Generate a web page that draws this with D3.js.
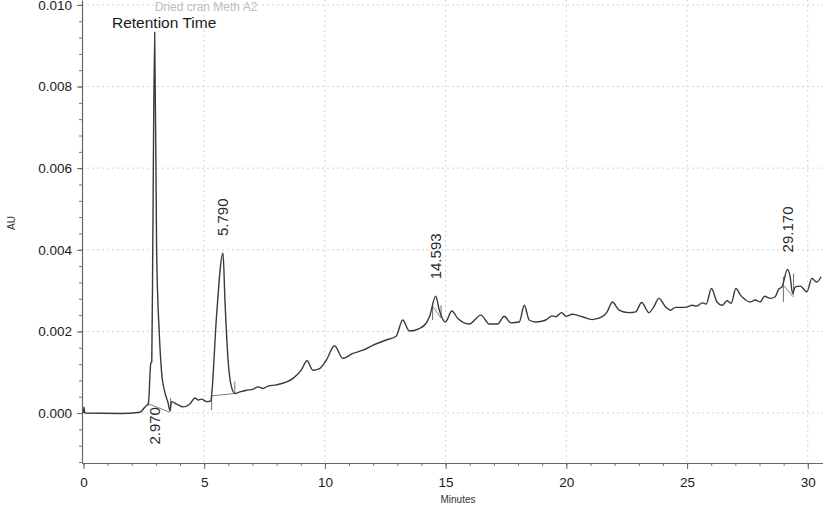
<!DOCTYPE html>
<html>
<head>
<meta charset="utf-8">
<script src="https://cdn.jsdelivr.net/npm/d3@7"></script>
<style>
  body { margin: 0; background: #fff; }
  text { font-family: "Liberation Sans", Arial, sans-serif; }
</style>
</head>
<body>
<svg id="chart"></svg>
<script>
// chromatogram trace (minutes, AU)
const times = [0, 0.02, 0.06, 1.52, 2.34, 2.55, 2.69, 2.79, 2.83, 2.87,
  2.95, 3.03, 3.14, 3.24, 3.38, 3.51, 3.58, 3.65, 3.86, 4.13,
  4.41, 4.62, 4.75, 4.89, 5.10, 5.28, 5.31, 5.51, 5.78, 5.86,
  5.99, 6.13, 6.27, 6.48, 6.75, 7.02, 7.23, 7.44, 7.64, 7.99,
  8.68, 9.02, 9.26, 9.50, 9.78, 10.06, 10.40, 10.74, 11.16, 11.57,
  11.98, 12.54, 12.95, 13.22, 13.50, 13.91, 14.19, 14.33, 14.59, 14.74,
  14.99, 15.26, 15.50, 15.98, 16.46, 16.81, 17.15, 17.43, 17.70, 18.05,
  18.26, 18.46, 18.74, 19.15, 19.42, 19.56, 19.81, 19.98, 20.25, 20.66,
  21.07, 21.49, 21.69, 21.91, 22.18, 22.59, 22.87, 23.12, 23.42, 23.62,
  23.83, 24.11, 24.31, 24.52, 24.93, 25.21, 25.41, 25.62, 25.79, 26.01,
  26.24, 26.45, 26.65, 26.83, 27.02, 27.21, 27.41, 27.62, 27.83, 28.03,
  28.21, 28.45, 28.65, 28.79, 28.93, 29.16, 29.27, 29.37, 29.48, 29.69,
  29.96, 30.17, 30.37, 30.55];
const absorbance = [0, 0.00015, 0, -0.00001, 0.00002, 0.00015, 0.00024, 0.00122, 0.00125, 0.00399,
  0.00933, 0.00399, 0.00196, 0.00098, 0.00049, 0.00024, 0.00006, 0.00028, 0.00022, 0.00015,
  0.00022, 0.00037, 0.00032, 0.00034, 0.00028, 0.00030, 0.00044, 0.00236, 0.00392, 0.00277,
  0.00130, 0.00064, 0.00048, 0.00052, 0.00056, 0.00058, 0.00064, 0.00060, 0.00066, 0.00069,
  0.00085, 0.00105, 0.00128, 0.00105, 0.00109, 0.00130, 0.00165, 0.00134, 0.00146, 0.00154,
  0.00166, 0.00179, 0.00188, 0.00228, 0.00201, 0.00207, 0.00220, 0.00236, 0.00286, 0.00252,
  0.00223, 0.00250, 0.00232, 0.00218, 0.00240, 0.00218, 0.00218, 0.00237, 0.00221, 0.00223,
  0.00264, 0.00228, 0.00223, 0.00228, 0.00238, 0.00236, 0.00246, 0.00237, 0.00242, 0.00236,
  0.00229, 0.00236, 0.00248, 0.00272, 0.00252, 0.00246, 0.00248, 0.00271, 0.00246, 0.00260,
  0.00281, 0.00260, 0.00252, 0.00259, 0.00259, 0.00264, 0.00262, 0.00270, 0.00267, 0.00305,
  0.00272, 0.00264, 0.00275, 0.00269, 0.00305, 0.00289, 0.00278, 0.00272, 0.00277, 0.00272,
  0.00286, 0.00281, 0.00285, 0.00303, 0.00309, 0.00352, 0.00334, 0.00293, 0.00309, 0.00311,
  0.00297, 0.00330, 0.00321, 0.00334];

// labelled retention times
const peakTimes = [2.970, 5.790, 14.593, 29.170];

// integration marks: [time, AU from, AU to] and [t0, AU0, t1, AU1]
const dropLines = [[2.69, 0.00018, 0.00030], [3.61, 0.00003, 0.00037], [5.31, 0.00007, 0.00040],
  [6.27, 0.00048, 0.00077], [14.46, 0.00228, 0.00262], [14.81, 0.00235, 0.00264],
  [28.99, 0.00272, 0.00334], [29.41, 0.00289, 0.00342]];
const baselines = [[2.71, 0.00022, 3.58, 0.00002], [5.31, 0.00042, 6.27, 0.00048],
  [14.46, 0.00262, 14.81, 0.00233], [28.99, 0.00313, 29.41, 0.00284]];

const xTicks = [0, 5, 10, 15, 20, 25, 30];
const yTicks = [0, 0.002, 0.004, 0.006, 0.008, 0.010];

const W = 823, H = 510;
const pLeft = 82, pRight = 823, pTop = 0, pBottom = 463;

const svg = d3.select("#chart").attr("width", W).attr("height", H);

const x = d3.scaleLinear().domain([-0.06, 30.63]).range([pLeft, pRight]);
const y = d3.scaleLinear().domain([-0.001224, 0.01012]).range([pBottom, pTop]);

svg.append("defs").append("clipPath").attr("id", "plot")
  .append("rect").attr("x", pLeft).attr("y", pTop).attr("width", pRight - pLeft).attr("height", pBottom - pTop);

// dotted grid
const grid = svg.append("g").attr("stroke", "#d4d4d4").attr("stroke-dasharray", "2,3").attr("stroke-width", 1);
grid.selectAll(".vg").data(xTicks.filter(d => d > 0)).enter().append("line")
  .attr("x1", d => x(d)).attr("x2", d => x(d)).attr("y1", pTop).attr("y2", pBottom);
grid.selectAll(".hg").data(yTicks).enter().append("line")
  .attr("x1", pLeft).attr("x2", pRight).attr("y1", d => y(d)).attr("y2", d => y(d));

// minor ticks
svg.append("g").attr("transform", `translate(0,${pBottom})`)
  .call(d3.axisBottom(x).tickValues(d3.range(0, 31, 1)).tickSize(3).tickFormat(""))
  .call(g => g.select(".domain").remove())
  .selectAll("line").attr("stroke", "#777");
svg.append("g").attr("transform", `translate(${pLeft},0)`)
  .call(d3.axisLeft(y).tickValues(d3.range(-12, 101, 4).map(d => d / 10000)).tickSize(3).tickFormat(""))
  .call(g => g.select(".domain").remove())
  .selectAll("line").attr("stroke", "#777");

// major axes
const xAxis = svg.append("g").attr("transform", `translate(0,${pBottom})`)
  .call(d3.axisBottom(x).tickValues(xTicks).tickSize(6).tickPadding(8).tickSizeOuter(0));
const yAxis = svg.append("g").attr("transform", `translate(${pLeft},0)`)
  .call(d3.axisLeft(y).tickValues(yTicks).tickFormat(d3.format(".3f")).tickSize(5).tickPadding(5).tickSizeOuter(0));
[xAxis, yAxis].forEach(g => {
  g.select(".domain").attr("stroke", "#666").attr("stroke-width", 1.2);
  g.selectAll(".tick line").attr("stroke", "#666");
  g.selectAll(".tick text").attr("fill", "#1a1a1a").style("font-size", "13.5px")
    .style("font-family", "'Liberation Sans', Arial, sans-serif");
});

const plot = svg.append("g").attr("clip-path", "url(#plot)");

// integration baselines and drop lines
plot.selectAll(".base").data(baselines).enter().append("line")
  .attr("x1", d => x(d[0])).attr("y1", d => y(d[1]))
  .attr("x2", d => x(d[2])).attr("y2", d => y(d[3]))
  .attr("stroke", "#808080").attr("stroke-width", 1);
plot.selectAll(".drop").data(dropLines).enter().append("line")
  .attr("x1", d => x(d[0])).attr("x2", d => x(d[0]))
  .attr("y1", d => y(d[1])).attr("y2", d => y(d[2]))
  .attr("stroke", "#707070").attr("stroke-width", 1);

// trace
const trace = times.map((t, i) => [t, absorbance[i]]);
plot.append("path").datum(trace)
  .attr("fill", "none").attr("stroke", "#3a3a3a").attr("stroke-width", 1.4)
  .attr("stroke-linejoin", "round")
  .attr("d", d3.line().curve(d3.curveMonotoneX).x(d => x(d[0])).y(d => y(d[1])));

// peak labels, rotated
const fmt = d3.format(".3f");
peakTimes.forEach(pt => {
  const near = trace.filter(d => Math.abs(d[0] - pt) < 0.2);
  const apex = d3.max(near, d => d[1]);
  let ly = y(apex) - 17, anchor = "start";
  if (ly - 45 < pTop) { ly = y(0) - 6; anchor = "end"; }
  svg.append("text")
    .attr("transform", `translate(${x(pt)},${ly})rotate(-90)`)
    .attr("text-anchor", anchor)
    .attr("dy", "0.35em")
    .attr("fill", "#2a2a2a")
    .style("font-size", "15px")
    .text(fmt(pt));
});

// titles
svg.append("text").attr("x", 206).attr("y", 11).attr("text-anchor", "middle")
  .attr("fill", "#bdbdbd").style("font-size", "12px").text("Dried cran Meth A2");
svg.append("text").attr("x", 112).attr("y", 28)
  .attr("fill", "#1a1a1a").style("font-size", "15.5px").text("Retention Time");
svg.append("text").attr("x", 458).attr("y", 503).attr("text-anchor", "middle")
  .attr("fill", "#333").style("font-size", "10px").text("Minutes");
svg.append("text").attr("transform", "translate(15,223)rotate(-90)").attr("text-anchor", "middle")
  .attr("fill", "#333").style("font-size", "10px").text("AU");
</script>
</body>
</html>
